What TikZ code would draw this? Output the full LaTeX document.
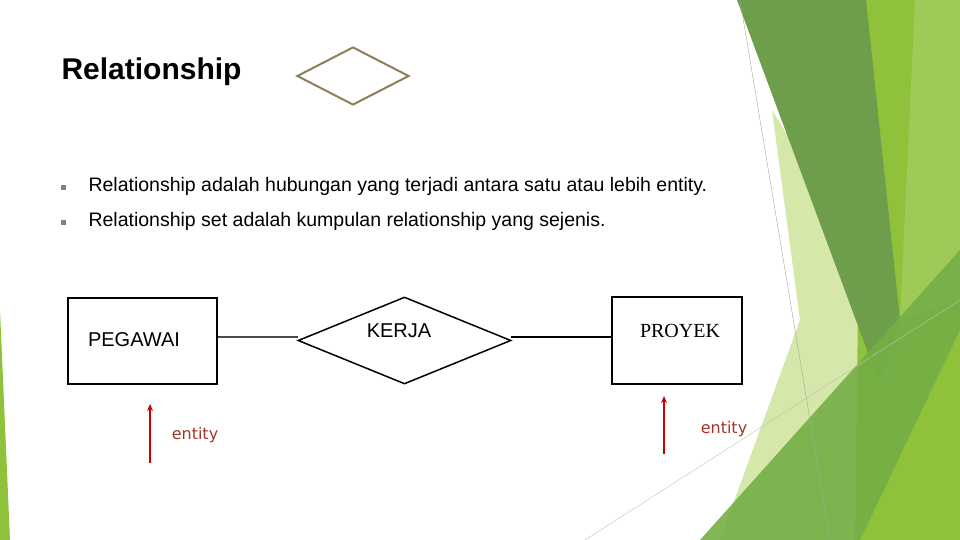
\documentclass[tikz,border=0pt]{standalone}
\usepackage{fontspec}
\setmainfont{Liberation Sans}
\newfontfamily\serif{Liberation Serif}
\newfontfamily\dv{DejaVu Sans}
\usetikzlibrary{shapes.geometric,arrows.meta}
\definecolor{dkg}{HTML}{6E9E4B}
\definecolor{ylg}{HTML}{8FC13A}
\definecolor{mdg}{HTML}{74AF46}
\definecolor{plg}{HTML}{D5E7A9}
\definecolor{olive}{HTML}{8B8058}
\definecolor{ered}{HTML}{A3342A}
\tikzset{ent/.style={draw=black,line width=1.5pt,minimum width=149pt,minimum height=86pt},
 rel/.style={diamond,draw=black,line width=1.5pt,aspect=2.45,inner sep=0pt,minimum width=213pt,minimum height=87pt},
 arr/.style={draw=red!80!black,line width=1.5pt,-{Stealth[length=7pt,width=6pt]}},
 bul/.style={fill=gray,minimum size=5pt,inner sep=0pt},
 lab/.style={text=ered,font=\dv\fontsize{16}{19}\selectfont}}
\begin{document}
\begin{tikzpicture}[x=1pt,y=-1pt]
\useasboundingbox (0,0) rectangle (960,540);
% decoration
\fill[plg] (772,110) -- (905,330) -- (880,540) -- (720,540) -- (800,320) -- cycle;
\fill[ylg] (862,0) -- (960,0) -- (960,540) -- (855,540) -- cycle;
\fill[ylg!85!white] (915,0) -- (960,0) -- (960,300) -- (900,320) -- cycle;
\fill[dkg] (737,0) -- (866,0) -- (900,320) -- (880,385) -- cycle;
\fill[mdg,opacity=0.9] (700,540) -- (960,250) -- (960,330) -- (860,540) -- cycle;
\fill[ylg] (0,310) -- (10,540) -- (0,540) -- cycle;
\draw[gray!70,line width=0.4pt] (740,0) -- (830,540);
\draw[gray!50,line width=0.4pt] (585,540) -- (960,300);
% title
\node[anchor=west,font=\bfseries\fontsize{30}{34}\selectfont] (title) at (58,72) {Relationship};
\node[diamond,draw=olive,line width=2pt,aspect=1.93,inner sep=0pt,minimum width=112pt,minimum height=58pt] (sym) at (353,76) {};
% bullets
\node[bul] (b1) at (63,187) {};
\node[anchor=west,font=\fontsize{19.5}{22}\selectfont] (t1) at (85,186) {Relationship adalah hubungan yang terjadi antara satu atau lebih entity.};
\node[bul] (b2) at (63,222) {};
\node[anchor=west,font=\fontsize{19.5}{22}\selectfont] (t2) at (85,221) {Relationship set adalah kumpulan relationship yang sejenis.};
% ER
\node[ent] (peg) at (142.5,341) {};
\node[font=\fontsize{20}{23}\selectfont] (pegt) at (134,340) {PEGAWAI};
\node[rel] (kerja) at (404.5,340.5) {};
\node[font=\fontsize{20}{23}\selectfont] (kerjat) at (399,331) {KERJA};
\node[ent,minimum width=130pt,minimum height=87pt] (pro) at (677,340.5) {};
\node[font=\serif\fontsize{20}{23}\selectfont] (prot) at (680,331) {PROYEK};
\draw[gray!60!black,line width=1.5pt] (217.5,337) -- (298,337);
\draw[black,line width=1.5pt] (511,337) -- (612,337);
\coordinate (a1s) at (150,463);
\coordinate (a1e) at (150,404);
\coordinate (a2s) at (664,454);
\coordinate (a2e) at (664,396);
\draw[arr] (a1s) -- (a1e);
\draw[arr] (a2s) -- (a2e);
\node[lab] (e1) at (195,435) {entity};
\node[lab] (e2) at (724,429) {entity};
\end{tikzpicture}
\end{document}
